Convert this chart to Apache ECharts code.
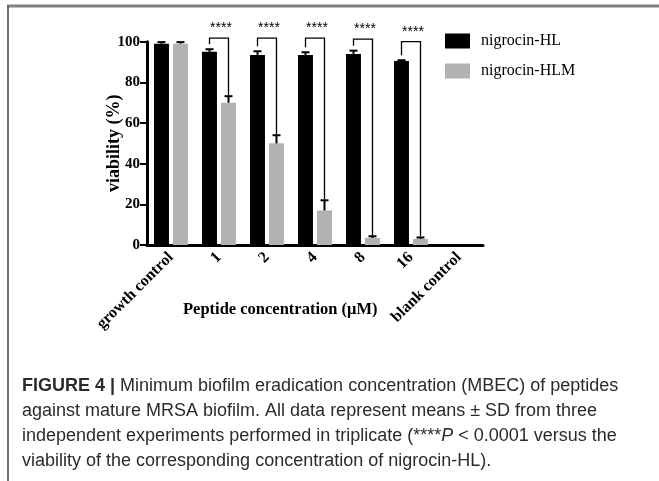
<!DOCTYPE html>
<html>
<head>
<meta charset="utf-8">
<script src="https://cdn.jsdelivr.net/npm/echarts@6/dist/echarts.min.js"></script>
<style>
  html,body{margin:0;padding:0;background:#fff;}
  #main{width:659px;height:481px;}
</style>
</head>
<body>
<div id="main"></div>
<script>
    //类别
    var categories=['growth control','1','2','4','8','16','blank control'];
    //nigrocin-HL 均值/SD
    var hlMean=[99,95,93.5,93.5,94,90.5,0];
    var hlSd=[0.8,1.3,1.8,1.3,1.6,0.4,0];
    //nigrocin-HLM 均值/SD
    var hlmMean=[99,70,50,17,3.5,3,0];
    var hlmSd=[0.8,3.2,4,5,0.8,0.7,0];
    //显著性标记 [类别序号, 括号高度]
    var sigIndex=[1,2,3,4,5];
    var sigLevel=[101.8,101.8,101.8,101.3,100];

    var serif='"Liberation Serif","Times New Roman",serif';
    var sans='"Liberation Sans",Arial,Helvetica,sans-serif';

    var BAR_W=15;
    var OFFSET=9.5;   //柱中心相对类别中心的偏移

    var myChart=echarts.init(document.getElementById('main'));

    //误差棒数据
    var errData=[];
    for(var i=0;i<categories.length;i++){
        errData.push([i,hlMean[i],hlSd[i],-1]);
        errData.push([i,hlmMean[i],hlmSd[i],1]);
    }

    //显著性括号数据
    var sigData=[];
    for(var k=0;k<sigIndex.length;k++){
        var j=sigIndex[k];
        sigData.push([j,hlMean[j]+hlSd[j],hlmMean[j]+hlmSd[j],sigLevel[k]]);
    }

    function renderErr(params,api){
        var sd=api.value(2);
        if(!sd) return null;
        var side=api.value(3);
        var p0=api.coord([api.value(0),api.value(1)]);
        var p1=api.coord([api.value(0),api.value(1)+sd]);
        var x=p0[0]+side*OFFSET;
        return {
            type:'group',
            children:[
                {type:'line',shape:{x1:x,y1:p0[1],x2:x,y2:p1[1]},style:{stroke:'#000',lineWidth:2}},
                {type:'line',shape:{x1:x-4,y1:p1[1],x2:x+4,y2:p1[1]},style:{stroke:'#000',lineWidth:2}}
            ]
        };
    }

    function renderSig(params,api){
        var c=api.value(0);
        var pL=api.coord([c,api.value(1)]);
        var pR=api.coord([c,api.value(2)]);
        var pT=api.coord([c,api.value(3)]);
        var xL=pL[0]-OFFSET, xR=pL[0]+OFFSET;
        return {
            type:'group',
            children:[
                {type:'polyline',shape:{points:[[xL,pL[1]-5],[xL,pT[1]],[xR,pT[1]],[xR,pR[1]-1]]},
                 style:{stroke:'#000',lineWidth:1.3,fill:null}},
                {type:'text',x:pL[0]+2,y:pT[1]-10,
                 style:{text:'****',fill:'#000',font:'14px '+sans,align:'center',verticalAlign:'middle'}}
            ]
        };
    }

    var option={
        animation:false,
        textStyle:{fontFamily:serif},
        title:{
            text:'Peptide concentration (μM)',
            left:178,top:296,
            textStyle:{fontFamily:serif,fontWeight:'bold',fontSize:16.5,color:'#000'}
        },
        legend:{
            orient:'vertical',
            left:440,top:28,
            itemWidth:25,itemHeight:15,itemGap:14,
            icon:'rect',
            textStyle:{fontFamily:serif,fontSize:16,color:'#000',padding:[0,0,0,6]},
            data:['nigrocin-HL','nigrocin-HLM']
        },
        grid:{left:147,top:41.7,width:336,height:203.3},
        xAxis:{
            type:'category',
            data:categories,
            axisLine:{lineStyle:{color:'#000',width:3}},
            axisTick:{alignWithLabel:true,length:7,lineStyle:{color:'#000',width:2}},
            axisLabel:{rotate:45,margin:10,color:'#000',fontFamily:serif,fontWeight:'bold',fontSize:16}
        },
        yAxis:{
            type:'value',
            min:0,max:100,interval:20,
            name:'viability (%)',
            nameLocation:'middle',
            nameGap:24,
            nameMoveOverlap:false,
            nameTextStyle:{fontFamily:serif,fontWeight:'bold',fontSize:18,color:'#000'},
            axisLine:{show:true,lineStyle:{color:'#000',width:3}},
            axisTick:{show:true,length:7,lineStyle:{color:'#000',width:2}},
            axisLabel:{color:'#000',fontFamily:serif,fontWeight:'bold',fontSize:15,margin:7},
            splitLine:{show:false}
        },
        series:[
            {name:'nigrocin-HL',type:'bar',data:hlMean,barWidth:BAR_W,barGap:'27%',itemStyle:{color:'#000'}},
            {name:'nigrocin-HLM',type:'bar',data:hlmMean,barWidth:BAR_W,itemStyle:{color:'#b2b2b2'}},
            {type:'custom',renderItem:renderErr,data:errData,encode:{x:0,y:1},clip:false,z:5},
            {type:'custom',renderItem:renderSig,data:sigData,encode:{x:0,y:3},clip:false,z:5}
        ],
        graphic:[
            //外框
            {type:'line',shape:{x1:7,y1:6,x2:659,y2:6},style:{stroke:'#808080',lineWidth:3}},
            {type:'line',shape:{x1:8,y1:6,x2:8,y2:481},style:{stroke:'#444',lineWidth:1.5}},
            //图注
            {type:'text',left:22,top:377,style:{
                text:'{b|FIGURE 4 |} Minimum biofilm eradication concentration (MBEC) of peptides',
                font:'18px '+sans,fill:'#2b2b2b',
                rich:{b:{fontWeight:'bold',fontSize:18,fontFamily:sans,fill:'#2b2b2b'}}}},
            {type:'text',left:22,top:402,style:{
                text:'against mature MRSA biofilm. All data represent means ± SD from three',
                font:'18px '+sans,fill:'#2b2b2b'}},
            {type:'text',left:22,top:427,style:{
                text:'independent experiments performed in triplicate (****{i|P} < 0.0001 versus the',
                font:'18px '+sans,fill:'#2b2b2b',
                rich:{i:{fontStyle:'italic',fontSize:18,fontFamily:sans,fill:'#2b2b2b'}}}},
            {type:'text',left:22,top:452,style:{
                text:'viability of the corresponding concentration of nigrocin-HL).',
                font:'18px '+sans,fill:'#2b2b2b'}}
        ]
    };

    myChart.setOption(option);
</script>
</body>
</html>
